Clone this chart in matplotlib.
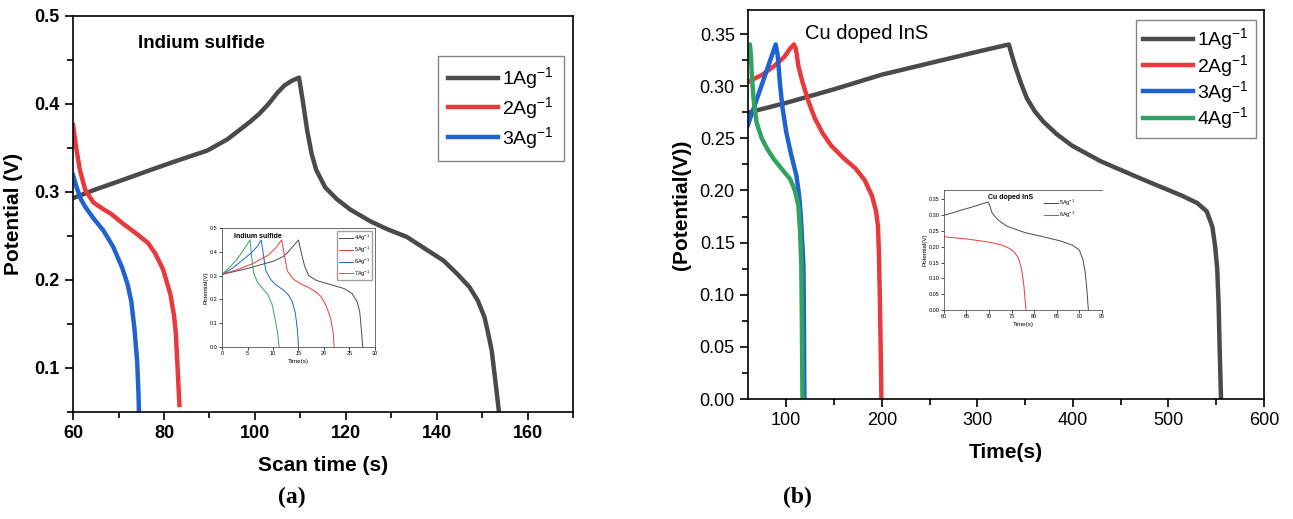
import matplotlib
matplotlib.use('Agg')
import matplotlib.pyplot as plt
from matplotlib.ticker import MultipleLocator

plt.rcParams['font.family'] = ['Liberation Sans', 'DejaVu Sans']
plt.rcParams['mathtext.default'] = 'regular'

# ── colours ───────────────────────────────────────────────────────────────────
C_BLACK = '#4a4a4a'
C_RED = '#e83a3c'
C_BLUE = '#1f62d0'
C_GREEN = '#31a35e'

# ── (a) Indium sulfide, main curves ───────────────────────────────────────────
a1_x = [60, 65, 70, 76.5, 82, 89.5, 94, 97, 99, 101, 103, 105, 106.5, 108, 109.7, 110.5, 111.5,
        112.5, 113.5, 115.5, 118, 121, 125.3, 129, 133.4, 137, 141.5, 144.5, 147.2, 149, 150.5,
        151.3, 152.1, 152.8, 153.7]
a1_y = [0.293, 0.303, 0.312, 0.324, 0.334, 0.347, 0.360, 0.372, 0.380, 0.389, 0.400, 0.413,
        0.421, 0.426, 0.430, 0.405, 0.370, 0.343, 0.325, 0.305, 0.292, 0.280, 0.267, 0.258,
        0.249, 0.237, 0.222, 0.207, 0.192, 0.177, 0.158, 0.140, 0.120, 0.090, 0.050]
a2_x = [60, 60.7, 61.5, 62.7, 64.5, 66.5, 68.4, 71, 74.1, 76.5, 78.1, 79.8, 81.4, 82.2, 82.6,
        83.0, 83.4]
a2_y = [0.376, 0.350, 0.325, 0.302, 0.288, 0.281, 0.275, 0.264, 0.252, 0.242, 0.230, 0.212,
        0.184, 0.160, 0.140, 0.100, 0.058]
a3_x = [60, 60.8, 61.7, 62.7, 64.5, 66.7, 68.8, 70.8, 72, 72.8, 73.5, 74.1, 74.4, 74.5]
a3_y = [0.319, 0.305, 0.292, 0.283, 0.270, 0.256, 0.238, 0.214, 0.195, 0.176, 0.145, 0.108,
        0.070, 0.050]
a_labels = ['1Ag$^{-1}$', '2Ag$^{-1}$', '3Ag$^{-1}$']

# ── (a) inset ─────────────────────────────────────────────────────────────────
ai4_x = [0, 5, 10, 12, 13, 14, 15, 15.5, 16.2, 17, 18.5, 20, 22, 24, 25.5, 26.5, 27, 27.3, 27.6]
ai4_y = [0.305, 0.330, 0.360, 0.380, 0.400, 0.425, 0.450, 0.400, 0.340, 0.300, 0.280, 0.270,
         0.258, 0.245, 0.225, 0.190, 0.150, 0.080, 0.0]
ai5_x = [0, 3, 6, 9, 10.5, 11.7, 12.2, 12.8, 14, 15.5, 17, 18.5, 19.5, 20.5, 21.3, 21.8, 22]
ai5_y = [0.305, 0.325, 0.350, 0.385, 0.415, 0.450, 0.390, 0.320, 0.285, 0.265, 0.250, 0.230,
         0.210, 0.170, 0.120, 0.060, 0.0]
ai6_x = [0, 2, 4, 6, 7, 7.7, 8.1, 8.6, 9.5, 10.5, 12, 13, 13.8, 14.4, 14.8, 15]
ai6_y = [0.305, 0.330, 0.365, 0.400, 0.425, 0.450, 0.390, 0.320, 0.285, 0.262, 0.240, 0.220,
         0.190, 0.140, 0.070, 0.0]
ai7_x = [0, 1.5, 3, 4.3, 5.5, 5.8, 6.2, 7, 8, 9, 9.8, 10.4, 10.9, 11.2]
ai7_y = [0.305, 0.335, 0.370, 0.410, 0.450, 0.380, 0.310, 0.270, 0.245, 0.220, 0.180, 0.120,
         0.060, 0.0]
ai_labels = ['4Ag$^{-1}$', '5Ag$^{-1}$', '6Ag$^{-1}$', '7Ag$^{-1}$']

# ── (b) Cu doped InS, main curves ─────────────────────────────────────────────
b1_x = [61.5, 100, 150, 200, 250, 300, 333, 336, 340, 346, 352, 360, 369, 383, 399, 429, 472,
        514, 530, 540, 546, 549, 551, 552.5, 553.5, 555]
b1_y = [0.275, 0.284, 0.297, 0.311, 0.322, 0.333, 0.340, 0.330, 0.318, 0.302, 0.288, 0.276,
        0.266, 0.254, 0.243, 0.228, 0.211, 0.195, 0.188, 0.180, 0.165, 0.145, 0.125, 0.090,
        0.050, 0.0]
b2_x = [60, 75, 87, 98, 104, 108, 110, 113, 117, 123, 130, 138, 147, 160, 172.6, 182, 189.7,
        194, 196, 197, 198, 199, 199.6]
b2_y = [0.304, 0.311, 0.319, 0.328, 0.336, 0.340, 0.336, 0.318, 0.304, 0.286, 0.269, 0.255,
        0.243, 0.231, 0.221, 0.210, 0.195, 0.180, 0.166, 0.140, 0.095, 0.040, 0.0]
b3_x = [60, 89, 91, 93.6, 96, 100, 105, 110.7, 113.5, 115, 116.5, 118, 118.5, 119]
b3_y = [0.263, 0.340, 0.330, 0.301, 0.280, 0.256, 0.235, 0.214, 0.195, 0.179, 0.155, 0.128,
        0.080, 0.0]
b4_x = [60, 62, 63, 64, 65.8, 69, 74.4, 80, 87, 95, 104, 109, 112.8, 114.5, 115.8, 116.5, 117]
b4_y = [0.330, 0.340, 0.330, 0.310, 0.288, 0.265, 0.250, 0.240, 0.230, 0.221, 0.211, 0.200,
        0.185, 0.160, 0.128, 0.060, 0.0]
b_labels = ['1Ag$^{-1}$', '2Ag$^{-1}$', '3Ag$^{-1}$', '4Ag$^{-1}$']

# ── (b) inset ─────────────────────────────────────────────────────────────────
bi5_x = [60, 62, 64, 66, 68, 69.8, 70.2, 70.6, 71.2, 72, 74, 76, 78, 82, 86, 88.5, 90, 90.8,
         91.3, 91.7, 92]
bi5_y = [0.300, 0.308, 0.317, 0.325, 0.334, 0.342, 0.330, 0.310, 0.298, 0.285, 0.265, 0.255,
         0.245, 0.232, 0.218, 0.205, 0.190, 0.160, 0.120, 0.060, 0.0]
bi6_x = [60, 65, 70, 73, 74.5, 75.5, 76.5, 77.2, 77.7, 78, 78.2]
bi6_y = [0.232, 0.225, 0.215, 0.205, 0.195, 0.185, 0.165, 0.130, 0.080, 0.030, 0.0]
bi_labels = ['5Ag$^{-1}$', '6Ag$^{-1}$']

LW = 3.2


def style_main(ax):
    for s in ax.spines.values():
        s.set_linewidth(1.2)
    ax.tick_params(which='both', direction='out', top=False, right=False, width=1.2)
    ax.tick_params(which='major', length=6)
    ax.tick_params(which='minor', length=4)


def style_inset(ax):
    for s in ax.spines.values():
        s.set_linewidth(0.6)
        s.set_color('#555555')
    ax.tick_params(which='both', direction='out', labelsize=4, width=0.5, length=2, pad=1)


fig = plt.figure(figsize=(12.93, 5.19), dpi=100)

# ── panel (a) ─────────────────────────────────────────────────────────────────
ax1 = fig.add_axes([0.0565, 0.2062, 0.3867, 0.7630])
ax1.plot(a1_x, a1_y, color=C_BLACK, lw=LW, label=a_labels[0])
ax1.plot(a2_x, a2_y, color=C_RED, lw=LW, label=a_labels[1])
ax1.plot(a3_x, a3_y, color=C_BLUE, lw=LW, label=a_labels[2])
ax1.set_xlim(60, 170)
ax1.set_ylim(0.05, 0.5)
ax1.xaxis.set_major_locator(MultipleLocator(20))
ax1.xaxis.set_minor_locator(MultipleLocator(10))
ax1.yaxis.set_major_locator(MultipleLocator(0.1))
ax1.yaxis.set_minor_locator(MultipleLocator(0.05))
style_main(ax1)
for lab in ax1.get_xticklabels() + ax1.get_yticklabels():
    lab.set_fontweight('bold')
    lab.set_fontsize(13)
ax1.set_xlabel('Scan time (s)', fontsize=15, fontweight='bold', labelpad=10)
ax1.set_ylabel('Potential (V)', fontsize=15, fontweight='bold', labelpad=8)
ax1.text(0.13, 0.93, 'Indium sulfide', transform=ax1.transAxes, fontsize=13.5,
         fontweight='bold', va='center')
leg1 = ax1.legend(loc='upper left', bbox_to_anchor=(0.73, 0.90), fontsize=14,
                  frameon=True, fancybox=False, edgecolor='#666666', handlelength=2.6,
                  labelspacing=0.2, handletextpad=0.2, borderpad=0.5, borderaxespad=0)
leg1.get_frame().set_linewidth(1.0)

# inset (a)
axi1 = fig.add_axes([0.1717, 0.3314, 0.1183, 0.2293])
axi1.plot(ai4_x, ai4_y, color=C_BLACK, lw=0.7, label=ai_labels[0])
axi1.plot(ai5_x, ai5_y, color=C_RED, lw=0.7, label=ai_labels[1])
axi1.plot(ai6_x, ai6_y, color=C_BLUE, lw=0.7, label=ai_labels[2])
axi1.plot(ai7_x, ai7_y, color=C_GREEN, lw=0.7, label=ai_labels[3])
axi1.set_xlim(0, 30)
axi1.set_ylim(0, 0.5)
axi1.xaxis.set_major_locator(MultipleLocator(5))
axi1.yaxis.set_major_locator(MultipleLocator(0.1))
style_inset(axi1)
axi1.set_xlabel('Time(s)', fontsize=4.5, labelpad=2)
axi1.set_ylabel('Potential(V)', fontsize=4.5, labelpad=1)
axi1.text(0.08, 0.93, 'Indium sulfide', transform=axi1.transAxes, fontsize=5,
          fontweight='bold', va='center')
axi1.legend(loc='upper right', fontsize=4, frameon=True, fancybox=False,
            edgecolor='#888888', handlelength=2.5, labelspacing=0.3, borderpad=0.3,
            handletextpad=0.3)

# ── panel (b) ─────────────────────────────────────────────────────────────────
ax2 = fig.add_axes([0.5785, 0.2312, 0.3991, 0.7495])
ax2.plot(b1_x, b1_y, color=C_BLACK, lw=LW, label=b_labels[0])
ax2.plot(b2_x, b2_y, color=C_RED, lw=LW, label=b_labels[1])
ax2.plot(b3_x, b3_y, color=C_BLUE, lw=LW, label=b_labels[2])
ax2.plot(b4_x, b4_y, color=C_GREEN, lw=LW, label=b_labels[3])
ax2.set_xlim(60, 600)
ax2.set_ylim(0, 0.373)
ax2.xaxis.set_major_locator(MultipleLocator(100))
ax2.xaxis.set_minor_locator(MultipleLocator(50))
ax2.yaxis.set_major_locator(MultipleLocator(0.05))
ax2.yaxis.set_minor_locator(MultipleLocator(0.025))
ax2.yaxis.set_major_formatter(plt.FormatStrFormatter('%.2f'))
style_main(ax2)
ax2.tick_params(labelsize=13)
ax2.set_xlabel('Time(s)', fontsize=15, fontweight='bold', labelpad=10)
ax2.set_ylabel('(Potential(V))', fontsize=15, fontweight='bold', labelpad=6)
ax2.text(0.11, 0.94, 'Cu doped InS', transform=ax2.transAxes, fontsize=14.5, va='center')
leg2 = ax2.legend(loc='upper left', bbox_to_anchor=(0.752, 0.975), fontsize=14,
                  frameon=True, fancybox=False, edgecolor='#666666', handlelength=2.6,
                  labelspacing=0.02, handletextpad=0.2, borderpad=0.35, borderaxespad=0)
leg2.get_frame().set_linewidth(1.0)

# inset (b)
axi2 = fig.add_axes([0.730, 0.4027, 0.1222, 0.2312])
axi2.plot(bi5_x, bi5_y, color=C_BLACK, lw=0.7, label=bi_labels[0])
axi2.plot(bi6_x, bi6_y, color=C_RED, lw=0.7, label=bi_labels[1])
axi2.set_xlim(60, 95)
axi2.set_ylim(0, 0.38)
axi2.xaxis.set_major_locator(MultipleLocator(5))
axi2.yaxis.set_major_locator(MultipleLocator(0.05))
axi2.yaxis.set_major_formatter(plt.FormatStrFormatter('%.2f'))
style_inset(axi2)
axi2.spines['right'].set_visible(False)
axi2.set_xlabel('Time(s)', fontsize=4.5, labelpad=2)
axi2.set_ylabel('Potential(V)', fontsize=4.5, labelpad=1)
axi2.text(0.28, 0.94, 'Cu doped InS', transform=axi2.transAxes, fontsize=5,
          fontweight='bold', va='center')
axi2.legend(loc='upper left', bbox_to_anchor=(0.6, 0.98), fontsize=4, frameon=False,
            handlelength=2.5, labelspacing=0.3, handletextpad=0.3)

# panel letters
fig.text(292 / 1293, 1 - 497 / 519, '(a)', fontsize=17, fontweight='bold',
         family=['Liberation Serif', 'DejaVu Serif'], ha='center', va='center')
fig.text(797 / 1293, 1 - 497 / 519, '(b)', fontsize=17, fontweight='bold',
         family=['Liberation Serif', 'DejaVu Serif'], ha='center', va='center')

plt.savefig('out.png', dpi=100)
